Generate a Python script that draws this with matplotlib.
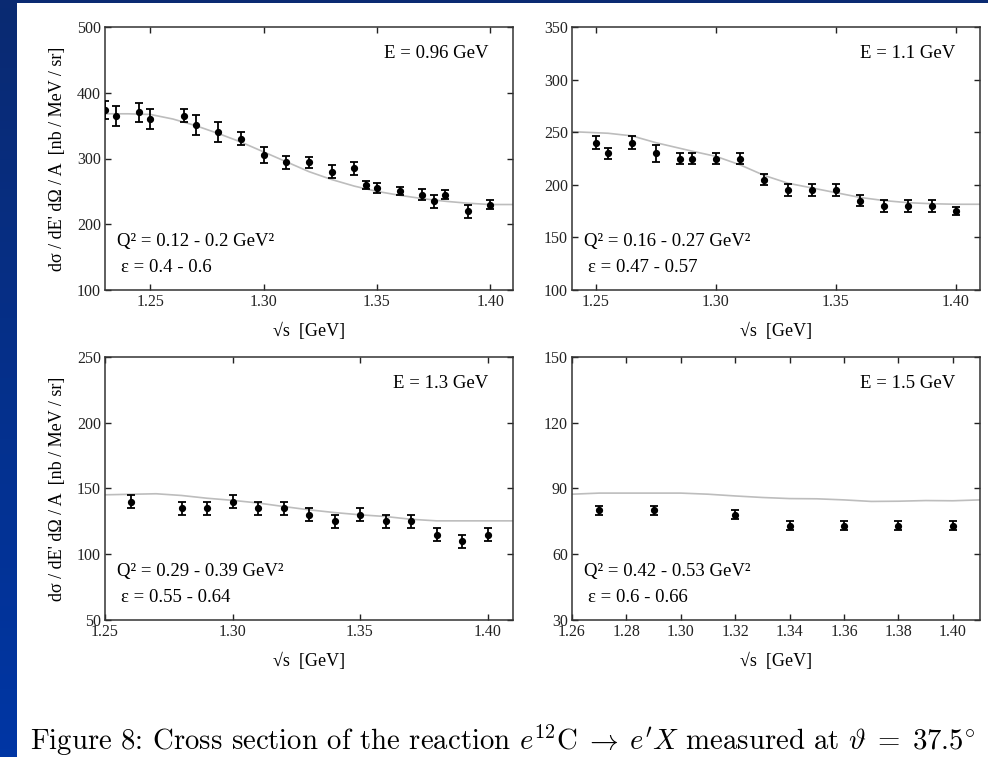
import numpy as np
import matplotlib
matplotlib.use("Agg")
import matplotlib.pyplot as plt
from matplotlib.colors import LinearSegmentedColormap

plt.rcParams["font.family"] = ["Liberation Serif", "DejaVu Serif"]
plt.rcParams["mathtext.fontset"] = "cm"

# panel settings
energies = ["E = 0.96 GeV", "E = 1.1 GeV", "E = 1.3 GeV", "E = 1.5 GeV"]
q2_text = ["0.12 - 0.2", "0.16 - 0.27", "0.29 - 0.39", "0.42 - 0.53"]
eps_text = ["0.4 - 0.6", "0.47 - 0.57", "0.55 - 0.64", "0.6 - 0.66"]

# E = 0.96 GeV
x1 = [1.23, 1.235, 1.245, 1.25, 1.265, 1.27, 1.28, 1.29, 1.30, 1.31, 1.32,
      1.33, 1.34, 1.345, 1.35, 1.36, 1.37, 1.375, 1.38, 1.39, 1.40]
y1 = [374, 365, 370, 360, 365, 351, 340, 330, 305, 294, 294,
      280, 285, 260, 255, 250, 245, 235, 245, 220, 230]
e1 = [14, 15, 15, 15, 10, 15, 15, 10, 12, 10, 8,
      10, 10, 6, 8, 6, 8, 10, 7, 10, 7]
cx1 = [1.23, 1.24, 1.25, 1.26, 1.27, 1.28, 1.29, 1.30, 1.31, 1.32, 1.33,
       1.34, 1.35, 1.36, 1.37, 1.38, 1.39, 1.40, 1.41]
cy1 = [368, 368, 367, 360, 350, 338, 325, 310, 295, 280, 268,
       258, 250, 244, 239, 235, 232, 230, 230]

# E = 1.1 GeV
x2 = [1.25, 1.255, 1.265, 1.275, 1.285, 1.29, 1.30, 1.31, 1.32, 1.33,
      1.34, 1.35, 1.36, 1.37, 1.38, 1.39, 1.40]
y2 = [240, 230, 240, 230, 225, 225, 225, 225, 205, 195,
      195, 195, 185, 180, 180, 180, 175]
e2 = [6, 5, 6, 8, 5, 5, 5, 5, 5, 6, 6, 6, 5, 6, 6, 6, 4]
cx2 = [1.24, 1.255, 1.265, 1.275, 1.29, 1.30, 1.31, 1.32, 1.33, 1.34,
       1.35, 1.36, 1.37, 1.38, 1.39, 1.40, 1.41]
cy2 = [250.5, 249, 246.5, 240, 232, 227, 219, 209, 201.5, 197,
       192.5, 188, 185, 183, 182, 181.5, 181.5]

# E = 1.3 GeV
x3 = [1.26, 1.28, 1.29, 1.30, 1.31, 1.32, 1.33, 1.34, 1.35, 1.36,
      1.37, 1.38, 1.39, 1.40]
y3 = [140, 135, 135, 140, 135, 135, 130, 125, 130, 125, 125, 115, 110, 115]
e3 = [5] * 14
cx3 = [1.25, 1.27, 1.28, 1.29, 1.30, 1.31, 1.32, 1.33, 1.34, 1.35, 1.36,
       1.37, 1.38, 1.39, 1.40, 1.41]
cy3 = [145.2, 146, 144.7, 142.6, 141, 139, 136.3, 133.8, 131.7, 130,
       128.7, 126.6, 125.4, 125.4, 125.4, 125.4]

# E = 1.5 GeV
x4 = [1.27, 1.29, 1.32, 1.34, 1.36, 1.38, 1.40]
y4 = [80, 80, 78, 73, 73, 73, 73]
e4 = [2, 2, 2, 2, 2, 2, 2]
cx4 = [1.26, 1.27, 1.30, 1.31, 1.32, 1.33, 1.34, 1.35, 1.36, 1.37,
       1.38, 1.39, 1.40, 1.41]
cy4 = [87.4, 87.9, 87.9, 87.4, 86.6, 85.9, 85.4, 85.3, 84.8, 84.1,
       84.2, 84.5, 84.4, 84.8]

xlims = [(1.23, 1.41), (1.24, 1.41), (1.25, 1.41), (1.26, 1.41)]
ylims = [(100, 500), (100, 350), (50, 250), (30, 150)]
xticks = [[1.25, 1.30, 1.35, 1.40], [1.25, 1.30, 1.35, 1.40],
          [1.25, 1.30, 1.35, 1.40], [1.26, 1.28, 1.30, 1.32, 1.34, 1.36, 1.38, 1.40]]
yticks = [[100, 200, 300, 400, 500], [100, 150, 200, 250, 300, 350],
          [50, 100, 150, 200, 250], [30, 60, 90, 120, 150]]

points = [(x1, y1, e1), (x2, y2, e2), (x3, y3, e3), (x4, y4, e4)]
curves = [(cx1, cy1), (cx2, cy2), (cx3, cy3), (cx4, cy4)]

W, H = 988, 757
fig = plt.figure(figsize=(W / 100, H / 100), dpi=100)
fig.patch.set_facecolor("white")

# blue slide background strips (left and top)
cmap = LinearSegmentedColormap.from_list("slide", ["#0a2a72", "#0036a4"])
bg = fig.add_axes([0, 0, 17 / W, 1])
bg.imshow(np.linspace(0, 1, 100)[:, None], aspect="auto", cmap=cmap)
bg.axis("off")
top = fig.add_axes([0, 1 - 3 / H, 1, 3 / H])
top.axis("off")
top.add_patch(plt.Rectangle((0, 0), 1, 1, color="#0a2a72", transform=top.transAxes))

boxes = [(105, 27), (572, 27), (105, 357), (572, 357)]
aw, ah = 408, 263

for i, (lx, ty) in enumerate(boxes):
    ax = fig.add_axes([lx / W, 1 - (ty + ah) / H, aw / W, ah / H])
    cx, cy = curves[i]
    ax.plot(cx, cy, color="#bdbdbd", lw=1.2, zorder=1)
    xs, ys, es = points[i]
    ax.errorbar(xs, ys, yerr=es, fmt="o", color="black", ms=4.2,
                capsize=3, elinewidth=1.3, capthick=1.3, zorder=3)
    ax.set_xlim(*xlims[i])
    ax.set_ylim(*ylims[i])
    ax.set_xticks(xticks[i])
    ax.set_xticklabels([f"{t:.2f}" for t in xticks[i]])
    ax.set_yticks(yticks[i])
    ax.tick_params(direction="in", top=True, right=True, length=4, width=1,
                   labelsize=11.5, pad=3, colors="#222222")
    for sp in ax.spines.values():
        sp.set_linewidth(1.1)
        sp.set_color("#333333")
    ax.set_xlabel("√s  [GeV]", fontsize=13, labelpad=9)
    if i in (0, 2):
        ax.set_ylabel("dσ / dE' dΩ / A  [nb / MeV / sr]", fontsize=13, labelpad=8)
    ax.text(0.94, 0.90, energies[i], transform=ax.transAxes, ha="right",
            va="center", fontsize=13.5)
    ax.text(0.03, 0.185, f"Q² = {q2_text[i]} GeV²", transform=ax.transAxes,
            ha="left", va="center", fontsize=13.5)
    ax.text(0.04, 0.085, f"ε = {eps_text[i]}", transform=ax.transAxes,
            ha="left", va="center", fontsize=13.5)

fig.text(30 / W, 1 - 740 / H,
         r"Figure 8: Cross section of the reaction $e^{12}\mathrm{C} \;\rightarrow\; e'X$ "
         r"measured at $\vartheta \;=\; 37.5^{\circ}$",
         family="cmr10", fontsize=20.7, ha="left", va="center")

fig.savefig("out.png", dpi=100)
